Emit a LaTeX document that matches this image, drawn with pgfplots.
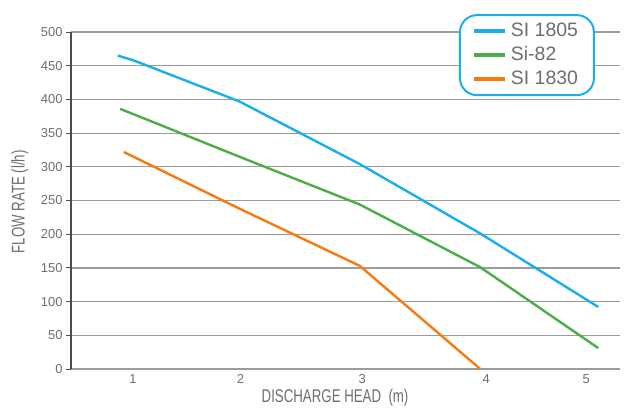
\documentclass[border=0pt]{standalone}
\usepackage{fontspec}
\setmainfont{Liberation Sans}
\newfontfamily\condfont{Liberation Sans}[FakeStretch=0.72]
\usepackage{pgfplots}
\pgfplotsset{compat=1.18}

\definecolor{sblue}{HTML}{19AFEB}
\definecolor{sgreen}{HTML}{4AAE48}
\definecolor{sorange}{HTML}{F57A10}
\definecolor{tgray}{HTML}{6E6E6E}
\definecolor{ggray}{HTML}{9C9C9C}

\begin{document}
\begin{tikzpicture}
    \begin{axis}[
        at={(0,0)}, anchor=south west,
        scale only axis,
        width  = 549bp,
        height = 337bp,
        xmin=0.602, xmax=5.16,
        ymin=0, ymax=500,
        axis x line*=bottom,
        axis y line*=left,
        x axis line style={draw=ggray, line width=1.2bp},
        y axis line style={draw=black!70, line width=1.2bp},
        ytick={0,50,...,500},
        ymajorgrids = true,
        grid style={ggray, line width=1.2bp},
        tick align=outside,
        major tick length=5bp,
        tick style={black!70, line width=1bp},
        xtick={1.116,2.01,3.02,4.05,4.88},
        xticklabels={1,2,3,4,5},
        major x tick style={draw=none},
        extra x ticks={0.602,1.564,2.544,3.515,4.494},
        extra x tick labels={},
        extra x tick style={major tick length=4bp, tick style={draw=black!70, line width=1bp}},
        /pgf/number format/assume math mode=true,
        ticklabel style={font=\fontsize{13}{14}\selectfont, text=tgray},
        xticklabel style={inner ysep=1bp, yshift=1bp},
        xlabel={DISCHARGE HEAD\ \ (m)},
        ylabel={FLOW RATE (l/h)},
        label style={font=\condfont\fontsize{18.5}{20}\selectfont, text=tgray, inner sep=0pt},
        xlabel style={at={(axis description cs:0.481,-0.086)}, anchor=center},
        ylabel style={at={(axis description cs:-0.093,0.496)}, anchor=center},
        legend cell align=left,
        legend image code/.code={\draw[line width=4bp] (0bp,0bp) -- (31bp,0bp);},
        legend style={
            at={(rel axis cs:0.7067,1.053)},
            anchor=north west,
            draw=sblue, line width=2bp, rounded corners=17bp,
            font=\fontsize{19.5}{21}\selectfont, text=tgray,
            inner xsep=12bp, inner ysep=4bp,
            nodes={text height=14bp, text depth=4bp, inner ysep=3bp, inner xsep=4bp},
            fill=white,
        },
    ]
        \addplot[sblue, line width=2.4bp] coordinates {
            (0.99,465) (1.12,458) (2.0,397) (3.0,304) (4.0,201) (4.98,92)
        };
        \addlegendentry{SI 1805}

        \addplot[sgreen, line width=2.4bp] coordinates {
            (1.01,386) (2.0,315) (3.0,244) (4.0,151) (4.98,31)
        };
        \addlegendentry{Si-82}

        \addplot[sorange, line width=2.4bp] coordinates {
            (1.04,322) (2.0,238) (3.0,153) (4.0,0)
        };
        \addlegendentry{SI 1830}
    \end{axis}
    \pgfresetboundingbox
    \useasboundingbox (-71bp,-39bp) rectangle (553bp,369bp);
\end{tikzpicture}
\end{document}
